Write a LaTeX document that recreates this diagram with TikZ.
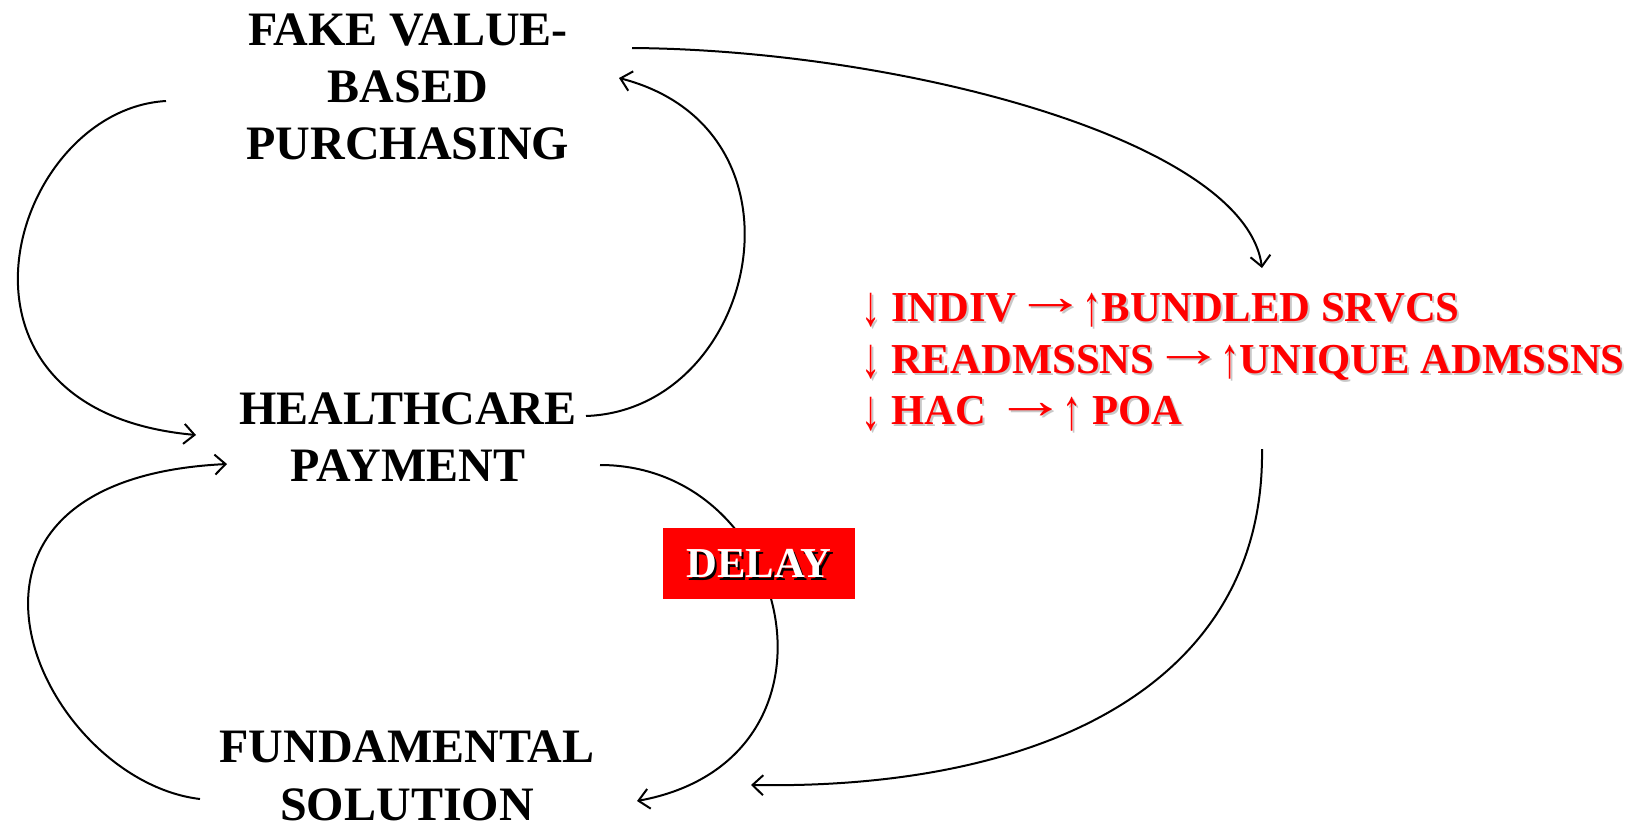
\documentclass[tikz,border=0pt]{standalone}
\usepackage{fontspec}
\usepackage{graphicx}
\setmainfont{Liberation Serif}
\usetikzlibrary{arrows.meta}
\definecolor{delayred}{RGB}{255,0,0}
\definecolor{txtred}{RGB}{255,0,0}
\definecolor{shadowgray}{RGB}{200,200,200}
\newsavebox\glyphbox
\newcommand\vglyph[1]{{\mdseries\sbox\glyphbox{#1}\raisebox{-4.5pt}{\resizebox*{0.9\wd\glyphbox}{25.5pt}{\raisebox{\depth}{#1}}}}}
\newcommand\dnar{\vglyph{↓}}
\newcommand\upar{\vglyph{↑}}
\newcommand\rtar{{\mdseries\hspace{1.5pt}\makebox[32pt][c]{\raisebox{\dimexpr10.5pt-0.5\height\relax}{\scalebox{1.7}[1.25]{\raisebox{\depth}{→}}}}}}
\newcommand\efftext{\dnar{} INDIV \rtar{} \upar BUNDLED SRVCS\\\dnar{} READMSSNS \rtar{} \upar UNIQUE ADMSSNS\\\dnar{} HAC \ \rtar{} \upar{} POA}
\begin{document}
\begin{tikzpicture}[x=0.75pt,y=-0.75pt,
  lbl/.style={font=\fontsize{36}{43}\selectfont\bfseries, align=center, inner sep=0pt},
  redtxt/.style={font=\fontsize{32}{38.8}\selectfont\bfseries, align=left, inner sep=0pt, anchor=west},
  conn/.style={line width=1.5pt, -{Straight Barb[length=8pt,width=15pt,line width=1.5pt]}},
  delaybox/.style={fill=delayred, minimum width=144pt, minimum height=53pt, inner sep=0pt}
]
\useasboundingbox (0,0) rectangle (1631,825);

% main labels
\node[lbl] (fake) at (408,87) {FAKE VALUE-\\BASED\\PURCHASING};
\node[lbl] (health) at (408,437) {HEALTHCARE\\PAYMENT};
\node[lbl] (fund) at (407,776) {FUNDAMENTAL\\SOLUTION};

% red effects text with light shadow
\node[redtxt, text=shadowgray] (effshadow) at (863,364) {\efftext};
\node[redtxt, text=txtred] (effects) at (861,362) {\efftext};

% connector end points
\coordinate (a1s) at (166,101);  \coordinate (a1e) at (196,435);
\coordinate (a2s) at (586,416);  \coordinate (a2e) at (619,78);
\coordinate (a3s) at (632,48);   \coordinate (a3e) at (1262,268);
\coordinate (a4s) at (1262,449); \coordinate (a4e) at (751,785);
\coordinate (a5s) at (600,465);  \coordinate (a5e) at (637,801);
\coordinate (a6s) at (200,799);  \coordinate (a6e) at (227,464);

\draw[conn] (a1s) .. controls (10,110) and (-80,410) .. (a1e);
\draw[conn] (a2s) .. controls (757,410) and (820,130) .. (a2e);
\draw[conn] (a3s) .. controls (900,50) and (1245,140) .. (a3e);
\draw[conn] (a4s) .. controls (1265,680) and (1050,790) .. (a4e);
\draw[conn] (a5s) .. controls (794,465) and (860,760) .. (a5e);
\draw[conn] (a6s) .. controls (40,780) and (-100,480) .. (a6e);

% delay box
\node[delaybox] (delay) at (759,563.5) {};
\node[font=\fontsize{32}{38}\selectfont\bfseries, text=black, inner sep=0pt] (delayshadow) at ([shift={(2.5,2.5)}]delay.center) {DELAY};
\node[font=\fontsize{32}{38}\selectfont\bfseries, text=white, inner sep=0pt] (delaytext) at (delay.center) {DELAY};
\end{tikzpicture}
\end{document}
